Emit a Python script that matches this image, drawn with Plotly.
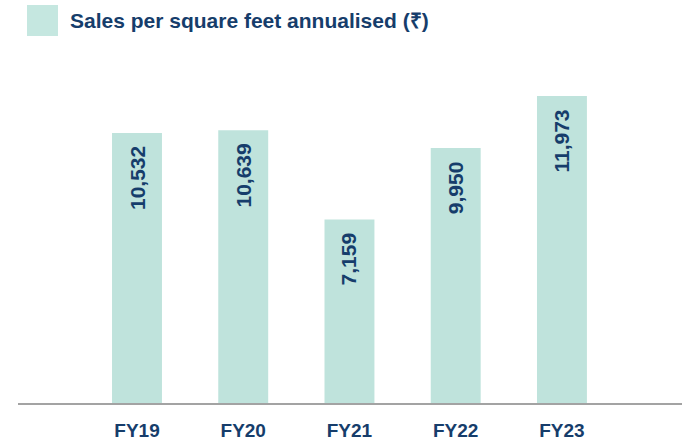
import plotly.graph_objects as go

categories = ["FY19", "FY20", "FY21", "FY22", "FY23"]
values = [10532, 10639, 7159, 9950, 11973]
labels = ["10,532", "10,639", "7,159", "9,950", "11,973"]
title_text = "Sales per square feet annualised (₹)"

navy = "#163d6b"
teal = "#bfe3dc"
font_family = "Liberation Sans, Arial, sans-serif"

W, H = 682, 446
ML, MR, MT, MB = 18, 0, 60, 43
PW, PH = W - ML - MR, H - MT - MB


def px(x):
    return (x - ML) / PW


def py(y):
    return (H - MB - y) / PH


fig = go.Figure()
fig.add_trace(go.Bar(
    x=categories, y=values,
    marker=dict(color=teal, line=dict(width=0)),
    width=0.47,
    hoverinfo="skip",
))

for c, v, t in zip(categories, values, labels):
    fig.add_annotation(x=c, y=v, xref="x", yref="y", text="<b>" + t + "</b>",
                       textangle=-90, showarrow=False,
                       xanchor="center", yanchor="top", yshift=-11,
                       font=dict(family=font_family, size=21, color=navy))

fig.add_shape(type="rect", xref="paper", yref="paper",
              x0=px(27), x1=px(58), y0=py(36), y1=py(5),
              fillcolor="#c5e7e0", line=dict(width=0))
fig.add_annotation(xref="paper", yref="paper",
                   x=px(68), y=py(20),
                   xanchor="left", yanchor="middle", showarrow=False,
                   text="<b>" + title_text + "</b>",
                   font=dict(family=font_family, size=21, color=navy))

fig.update_layout(
    width=W, height=H,
    margin=dict(l=ML, r=MR, t=MT, b=MB, autoexpand=False),
    paper_bgcolor="white", plot_bgcolor="white",
    showlegend=False,
    xaxis=dict(range=[-1.12, 5.13], showgrid=False, zeroline=False,
               showline=True, linecolor="#a3a3a3", linewidth=2,
               ticks="", ticklabelstandoff=9,
               tickfont=dict(family=font_family, size=19, color=navy, weight="bold")),
    yaxis=dict(range=[0, 13380], visible=False, showgrid=False, zeroline=False),
)

fig.write_html("out.html", config={"displayModeBar": False},
               post_script="document.body.style.margin='0';document.body.style.overflow='hidden';")
